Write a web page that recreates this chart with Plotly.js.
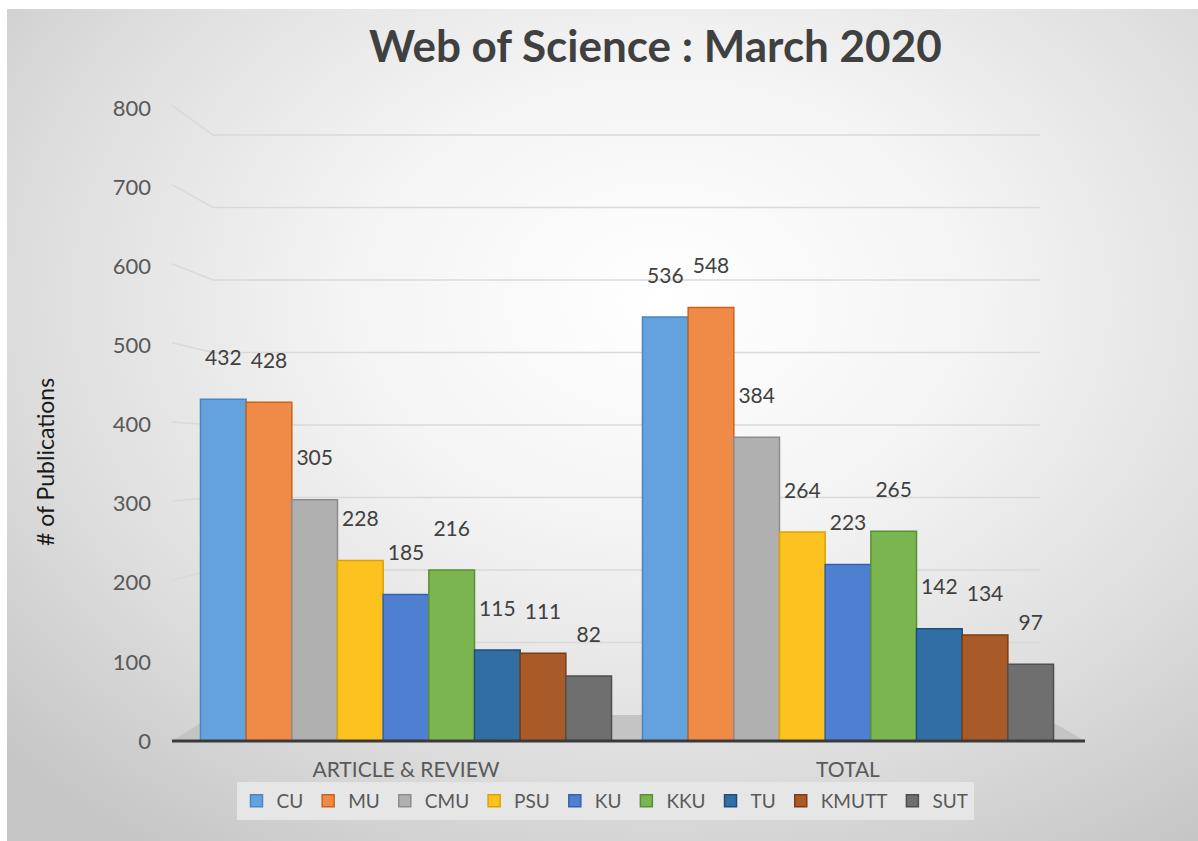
<!DOCTYPE html>
<html>
<head>
<meta charset="utf-8">
<script src="https://cdn.plot.ly/plotly-3.0.1.min.js"></script>
<style>
  html, body { margin: 0; padding: 0; background: #ffffff; }
  #bg { position: absolute; left: 7px; top: 9px; width: 1191px; height: 832px;
        background: radial-gradient(ellipse 75% 80% at 55% 35%, #ffffff 0%, #f4f4f4 35%, #dedede 70%, #c6c6c6 100%); }
  #chart { position: absolute; left: 0; top: 0; width: 1198px; height: 841px; }
</style>
</head>
<body>
<div id="bg"></div>
<div id="chart"></div>
<script>
// ---- data ----
const categories = ["ARTICLE &amp; REVIEW", "TOTAL"];
const universities = ["CU", "MU", "CMU", "PSU", "KU", "KKU", "TU", "KMUTT", "SUT"];
const CU    = [432, 536];
const MU    = [428, 548];
const CMU   = [305, 384];
const PSU   = [228, 264];
const KU    = [185, 223];
const KKU   = [216, 265];
const TU    = [115, 142];
const KMUTT = [111, 134];
const SUT   = [82, 97];
const yTicks = [0, 100, 200, 300, 400, 500, 600, 700, 800];

// ---- styles ----
const fills = ["#63a2dc", "#ef8a47", "#b0b0b0", "#fcc21f", "#4f7fd0", "#7ab54f", "#316ea3", "#a85a28", "#6f6f6f"];
const edges = ["#4a86c0", "#c8631f", "#8c8c8c", "#d9a400", "#3660ac", "#5a8f36", "#1f4e7a", "#7f3c10", "#4f4f4f"];
const seriesValues = [CU, MU, CMU, PSU, KU, KKU, TU, KMUTT, SUT];
const FONT = "Lato, 'Open Sans', sans-serif";

const traces = seriesValues.map((vals, i) => ({
  type: "bar",
  name: universities[i],
  x: categories,
  y: vals,
  text: vals.map(v => String(v) + "<br> "),
  textposition: "outside",
  constraintext: "none",
  cliponaxis: false,
  textfont: { family: FONT, size: 21, color: "#404040" },
  marker: { color: fills[i], line: { color: edges[i], width: 1.5 } },
  hoverinfo: "x+y+name"
}));

// plot geometry (pixels)
const W = 1198, H = 841;
const L = 185, R = 1069, T = 108, B = 741;
const pw = R - L, ph = B - T;
const yMax = 800;
// back wall scale: value 0 at 715 px, 800 at 135 px
const backZero = 715, backTop = 135;
const backScale = (backZero - backTop) / 800;
const lo2 = -(B - backZero) / backScale;
const hi2 = lo2 + ph / backScale;

function px2fx(px) { return (px - L) / pw; }
function py2fy(py) { return (B - py) / ph; }
function frontY(v) { return v / yMax; }
function backY(v) { return (v - lo2) / (hi2 - lo2); }

const shapes = [];
// floor
shapes.push({
  type: "path", xref: "paper", yref: "paper", layer: "below",
  path: `M ${px2fx(172)} ${py2fy(741)} L ${px2fx(1085)} ${py2fy(741)} L ${px2fx(1040)} ${py2fy(715)} L ${px2fx(213)} ${py2fy(715)} Z`,
  fillcolor: "#c4c4c4", line: { width: 0 }
});
// gridlines (back wall with side-wall lead-in)
yTicks.filter(v => v > 0).forEach(v => {
  shapes.push({
    type: "path", xref: "paper", yref: "paper", layer: "below",
    path: `M ${px2fx(172)} ${frontY(v) + 0.004} L ${px2fx(213)} ${backY(v)} L ${px2fx(1040)} ${backY(v)}`,
    line: { color: "#d9d9d9", width: 1.5 }
  });
});
// axis line
shapes.push({
  type: "line", xref: "paper", yref: "paper", layer: "above",
  x0: px2fx(172), x1: px2fx(1085), y0: 0, y1: 0,
  line: { color: "#3a3a3a", width: 3 }
});

const layout = {
  width: W, height: H,
  paper_bgcolor: "rgba(0,0,0,0)",
  plot_bgcolor: "rgba(0,0,0,0)",
  margin: { l: L, r: W - R, t: T, b: H - B, pad: 0 },
  font: { family: FONT, color: "#595959" },
  title: {
    text: "<b>Web of Science : March 2020</b>",
    font: { family: FONT, size: 44, color: "#404040" },
    x: 0.547, xanchor: "center", y: 0.944, yanchor: "middle"
  },
  barmode: "group",
  bargap: 0.07,
  bargroupgap: 0,
  showlegend: true,
  legend: {
    orientation: "h",
    x: px2fx(605), xanchor: "center",
    y: py2fy(782), yanchor: "top",
    bgcolor: "#e6e6e6",
    font: { family: FONT, size: 19, color: "#595959" },
    itemwidth: 30,
    itemclick: false, itemdoubleclick: false,
    traceorder: "normal"
  },
  xaxis: {
    type: "category",
    range: [-0.5, 1.5],
    showgrid: false, zeroline: false, showline: false,
    ticks: "", ticklabelstandoff: 14,
    tickfont: { family: FONT, size: 21, color: "#595959" },
    fixedrange: true
  },
  yaxis: {
    range: [0, yMax],
    tickvals: yTicks,
    ticktext: yTicks.map(String),
    showgrid: false, zeroline: false, showline: false,
    ticks: "", ticklabelstandoff: 33,
    tickfont: { family: FONT, size: 22, color: "#595959" },
    fixedrange: true
  },
  shapes: shapes,
  annotations: [{
    text: "# of Publications",
    xref: "paper", yref: "paper",
    x: px2fx(45), y: py2fy(462),
    xanchor: "center", yanchor: "middle",
    textangle: -90, showarrow: false,
    font: { family: FONT, size: 23, color: "#1a1a1a" }
  }]
};

Plotly.newPlot("chart", traces, layout, { displayModeBar: false, staticPlot: true });
</script>
</body>
</html>
